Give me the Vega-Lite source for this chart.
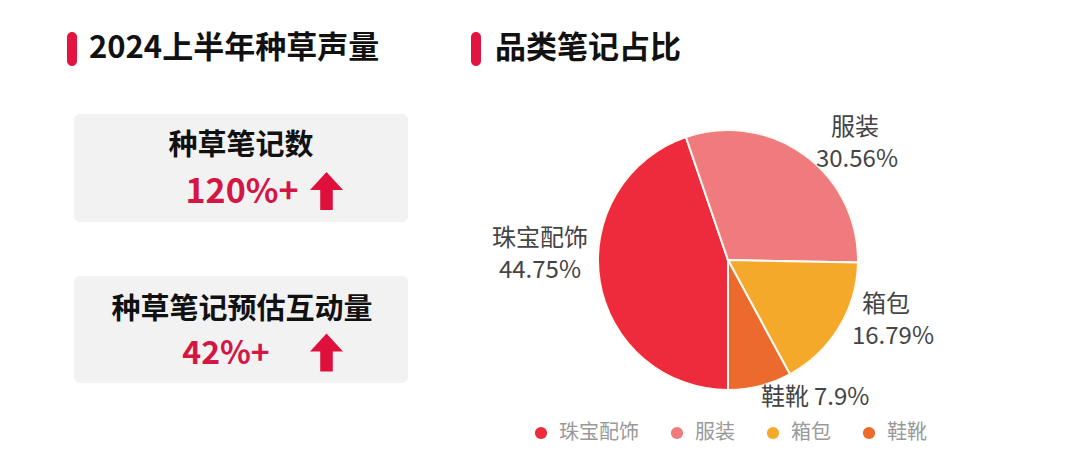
{
  "$schema": "https://vega.github.io/schema/vega-lite/v6.json",
  "width": 1080,
  "height": 470,
  "autosize": {"type": "fit", "contains": "padding"},
  "padding": 0,
  "background": "white",
  "config": {"view": {"stroke": null}, "font": "Noto Sans CJK SC"},
  "resolve": {"scale": {"x": "shared", "y": "shared"}},
  "datasets": {
    "share": [
      {"category": "珠宝配饰", "share": 0.4475},
      {"category": "服装", "share": 0.3056},
      {"category": "箱包", "share": 0.1679},
      {"category": "鞋靴", "share": 0.079}
    ],
    "kpi": [
      {"metric": "种草笔记数", "change": "120%+"},
      {"metric": "种草笔记预估互动量", "change": "42%+"}
    ],
    "titles": [
      {"title": "2024上半年种草声量"},
      {"title": "品类笔记占比"}
    ]
  },
  "layer": [
    {
      "data": {"values": [{}]},
      "mark": {"type": "rect", "fill": "#F2F2F2", "cornerRadius": 6},
      "encoding": {
        "x": {"datum": 74, "type": "quantitative", "scale": {"domain": [0, 1080], "nice": false, "zero": false}, "axis": null},
        "x2": {"datum": 408},
        "y": {"datum": 114, "type": "quantitative", "scale": {"domain": [0, 470], "nice": false, "zero": false, "reverse": true}, "axis": null},
        "y2": {"datum": 222}
      }
    },
    {
      "data": {"values": [{}]},
      "mark": {"type": "rect", "fill": "#F2F2F2", "cornerRadius": 6},
      "encoding": {
        "x": {"datum": 74, "type": "quantitative", "scale": {"domain": [0, 1080], "nice": false, "zero": false}, "axis": null},
        "x2": {"datum": 408},
        "y": {"datum": 276, "type": "quantitative", "scale": {"domain": [0, 470], "nice": false, "zero": false, "reverse": true}, "axis": null},
        "y2": {"datum": 383}
      }
    },
    {
      "data": {"values": [{}]},
      "mark": {"type": "rect", "fill": "#E3143F", "cornerRadius": 5},
      "encoding": {
        "x": {"datum": 67, "type": "quantitative", "scale": {"domain": [0, 1080], "nice": false, "zero": false}, "axis": null},
        "x2": {"datum": 77},
        "y": {"datum": 32, "type": "quantitative", "scale": {"domain": [0, 470], "nice": false, "zero": false, "reverse": true}, "axis": null},
        "y2": {"datum": 66}
      }
    },
    {
      "data": {"values": [{}]},
      "mark": {"type": "rect", "fill": "#E3143F", "cornerRadius": 5},
      "encoding": {
        "x": {"datum": 471, "type": "quantitative", "scale": {"domain": [0, 1080], "nice": false, "zero": false}, "axis": null},
        "x2": {"datum": 481},
        "y": {"datum": 32, "type": "quantitative", "scale": {"domain": [0, 470], "nice": false, "zero": false, "reverse": true}, "axis": null},
        "y2": {"datum": 66}
      }
    },
    {
      "data": {"name": "titles"},
      "transform": [{"filter": "datum.title === '2024上半年种草声量'"}],
      "mark": {"type": "text", "align": "left", "baseline": "middle", "fontSize": 31, "fontWeight": "bold", "color": "#111111"},
      "encoding": {
        "x": {"datum": 89, "type": "quantitative", "scale": {"domain": [0, 1080], "nice": false, "zero": false}, "axis": null},
        "y": {"datum": 49, "type": "quantitative", "scale": {"domain": [0, 470], "nice": false, "zero": false, "reverse": true}, "axis": null},
        "text": {"field": "title"}
      }
    },
    {
      "data": {"name": "titles"},
      "transform": [{"filter": "datum.title === '品类笔记占比'"}],
      "mark": {"type": "text", "align": "left", "baseline": "middle", "fontSize": 31, "fontWeight": "bold", "color": "#111111"},
      "encoding": {
        "x": {"datum": 495, "type": "quantitative", "scale": {"domain": [0, 1080], "nice": false, "zero": false}, "axis": null},
        "y": {"datum": 49, "type": "quantitative", "scale": {"domain": [0, 470], "nice": false, "zero": false, "reverse": true}, "axis": null},
        "text": {"field": "title"}
      }
    },
    {
      "data": {"name": "kpi"},
      "transform": [{"filter": "datum.metric === '种草笔记数'"}],
      "mark": {"type": "text", "align": "center", "baseline": "middle", "fontSize": 29, "fontWeight": "bold", "color": "#111111"},
      "encoding": {
        "x": {"datum": 241, "type": "quantitative", "scale": {"domain": [0, 1080], "nice": false, "zero": false}, "axis": null},
        "y": {"datum": 146, "type": "quantitative", "scale": {"domain": [0, 470], "nice": false, "zero": false, "reverse": true}, "axis": null},
        "text": {"field": "metric"}
      }
    },
    {
      "data": {"name": "kpi"},
      "transform": [{"filter": "datum.metric === '种草笔记数'"}],
      "mark": {"type": "text", "align": "center", "baseline": "middle", "fontSize": 34, "fontWeight": "bold", "color": "#D41645"},
      "encoding": {
        "x": {"datum": 242, "type": "quantitative", "scale": {"domain": [0, 1080], "nice": false, "zero": false}, "axis": null},
        "y": {"datum": 193, "type": "quantitative", "scale": {"domain": [0, 470], "nice": false, "zero": false, "reverse": true}, "axis": null},
        "text": {"field": "change"}
      }
    },
    {
      "data": {"name": "kpi"},
      "transform": [{"filter": "datum.metric === '种草笔记预估互动量'"}],
      "mark": {"type": "text", "align": "center", "baseline": "middle", "fontSize": 29, "fontWeight": "bold", "color": "#111111"},
      "encoding": {
        "x": {"datum": 242, "type": "quantitative", "scale": {"domain": [0, 1080], "nice": false, "zero": false}, "axis": null},
        "y": {"datum": 310, "type": "quantitative", "scale": {"domain": [0, 470], "nice": false, "zero": false, "reverse": true}, "axis": null},
        "text": {"field": "metric"}
      }
    },
    {
      "data": {"name": "kpi"},
      "transform": [{"filter": "datum.metric === '种草笔记预估互动量'"}],
      "mark": {"type": "text", "align": "center", "baseline": "middle", "fontSize": 32, "fontWeight": "bold", "color": "#D41645"},
      "encoding": {
        "x": {"datum": 226, "type": "quantitative", "scale": {"domain": [0, 1080], "nice": false, "zero": false}, "axis": null},
        "y": {"datum": 354, "type": "quantitative", "scale": {"domain": [0, 470], "nice": false, "zero": false, "reverse": true}, "axis": null},
        "text": {"field": "change"}
      }
    },
    {
      "data": {"values": [{}]},
      "mark": {"type": "point", "filled": true, "opacity": 1, "fill": "#E0103C", "strokeWidth": 0, "size": 1444, "shape": "M0,-1 L0.87,-0.05 L0.33,-0.05 L0.33,1 L-0.33,1 L-0.33,-0.05 L-0.87,-0.05 Z"},
      "encoding": {
        "x": {"datum": 326.5, "type": "quantitative", "scale": {"domain": [0, 1080], "nice": false, "zero": false}, "axis": null},
        "y": {"datum": 191, "type": "quantitative", "scale": {"domain": [0, 470], "nice": false, "zero": false, "reverse": true}, "axis": null}
      }
    },
    {
      "data": {"values": [{}]},
      "mark": {"type": "point", "filled": true, "opacity": 1, "fill": "#E0103C", "strokeWidth": 0, "size": 1444, "shape": "M0,-1 L0.87,-0.05 L0.33,-0.05 L0.33,1 L-0.33,1 L-0.33,-0.05 L-0.87,-0.05 Z"},
      "encoding": {
        "x": {"datum": 326.5, "type": "quantitative", "scale": {"domain": [0, 1080], "nice": false, "zero": false}, "axis": null},
        "y": {"datum": 352.5, "type": "quantitative", "scale": {"domain": [0, 470], "nice": false, "zero": false, "reverse": true}, "axis": null}
      }
    },
    {
      "data": {"name": "share"},
      "mark": {"type": "arc", "outerRadius": 130, "stroke": "#FFFBF2", "strokeWidth": 2},
      "encoding": {
        "x": {"datum": 728, "type": "quantitative", "scale": {"domain": [0, 1080], "nice": false, "zero": false}, "axis": null},
        "y": {"datum": 260, "type": "quantitative", "scale": {"domain": [0, 470], "nice": false, "zero": false, "reverse": true}, "axis": null},
        "theta": {"field": "share", "type": "quantitative", "stack": true, "scale": {"range": [3.14159265, 9.42477796]}},
        "order": {"field": "share", "sort": "descending"},
        "color": {
          "field": "category",
          "type": "nominal",
          "sort": ["珠宝配饰", "服装", "箱包", "鞋靴"],
          "scale": {"domain": ["珠宝配饰", "服装", "箱包", "鞋靴"], "range": ["#EE2B3C", "#F07B7E", "#F5A92B", "#EC6A2E"]},
          "legend": {
            "orient": "none",
            "legendX": 531,
            "legendY": 423,
            "direction": "horizontal",
            "title": null,
            "symbolType": "circle",
            "symbolSize": 150,
            "symbolStrokeWidth": 0,
            "symbolOpacity": 1,
            "labelFontSize": 20,
            "labelColor": "#999999",
            "labelOffset": 8,
            "columnPadding": 28
          }
        }
      }
    },
    {
      "data": {"name": "share"},
      "transform": [{"filter": "datum.category === '珠宝配饰'"}],
      "mark": {"type": "text", "align": "center", "baseline": "middle", "fontSize": 24, "color": "#444444"},
      "encoding": {
        "x": {"datum": 540, "type": "quantitative", "scale": {"domain": [0, 1080], "nice": false, "zero": false}, "axis": null},
        "y": {"datum": 239, "type": "quantitative", "scale": {"domain": [0, 470], "nice": false, "zero": false, "reverse": true}, "axis": null},
        "text": {"field": "category"}
      }
    },
    {
      "data": {"name": "share"},
      "transform": [{"filter": "datum.category === '珠宝配饰'"}],
      "mark": {"type": "text", "align": "center", "baseline": "middle", "fontSize": 24, "color": "#444444"},
      "encoding": {
        "x": {"datum": 540, "type": "quantitative", "scale": {"domain": [0, 1080], "nice": false, "zero": false}, "axis": null},
        "y": {"datum": 271, "type": "quantitative", "scale": {"domain": [0, 470], "nice": false, "zero": false, "reverse": true}, "axis": null},
        "text": {"field": "share", "format": ".2%"}
      }
    },
    {
      "data": {"name": "share"},
      "transform": [{"filter": "datum.category === '服装'"}],
      "mark": {"type": "text", "align": "center", "baseline": "middle", "fontSize": 24, "color": "#444444"},
      "encoding": {
        "x": {"datum": 855, "type": "quantitative", "scale": {"domain": [0, 1080], "nice": false, "zero": false}, "axis": null},
        "y": {"datum": 128, "type": "quantitative", "scale": {"domain": [0, 470], "nice": false, "zero": false, "reverse": true}, "axis": null},
        "text": {"field": "category"}
      }
    },
    {
      "data": {"name": "share"},
      "transform": [{"filter": "datum.category === '服装'"}],
      "mark": {"type": "text", "align": "center", "baseline": "middle", "fontSize": 24, "color": "#444444"},
      "encoding": {
        "x": {"datum": 857, "type": "quantitative", "scale": {"domain": [0, 1080], "nice": false, "zero": false}, "axis": null},
        "y": {"datum": 160, "type": "quantitative", "scale": {"domain": [0, 470], "nice": false, "zero": false, "reverse": true}, "axis": null},
        "text": {"field": "share", "format": ".2%"}
      }
    },
    {
      "data": {"name": "share"},
      "transform": [{"filter": "datum.category === '箱包'"}],
      "mark": {"type": "text", "align": "center", "baseline": "middle", "fontSize": 24, "color": "#444444"},
      "encoding": {
        "x": {"datum": 886, "type": "quantitative", "scale": {"domain": [0, 1080], "nice": false, "zero": false}, "axis": null},
        "y": {"datum": 305, "type": "quantitative", "scale": {"domain": [0, 470], "nice": false, "zero": false, "reverse": true}, "axis": null},
        "text": {"field": "category"}
      }
    },
    {
      "data": {"name": "share"},
      "transform": [{"filter": "datum.category === '箱包'"}],
      "mark": {"type": "text", "align": "center", "baseline": "middle", "fontSize": 24, "color": "#444444"},
      "encoding": {
        "x": {"datum": 893, "type": "quantitative", "scale": {"domain": [0, 1080], "nice": false, "zero": false}, "axis": null},
        "y": {"datum": 337, "type": "quantitative", "scale": {"domain": [0, 470], "nice": false, "zero": false, "reverse": true}, "axis": null},
        "text": {"field": "share", "format": ".2%"}
      }
    },
    {
      "data": {"name": "share"},
      "transform": [{"filter": "datum.category === '鞋靴'"}],
      "mark": {"type": "text", "align": "left", "baseline": "middle", "fontSize": 24, "color": "#444444"},
      "encoding": {
        "x": {"datum": 761, "type": "quantitative", "scale": {"domain": [0, 1080], "nice": false, "zero": false}, "axis": null},
        "y": {"datum": 398, "type": "quantitative", "scale": {"domain": [0, 470], "nice": false, "zero": false, "reverse": true}, "axis": null},
        "text": {"field": "category"}
      }
    },
    {
      "data": {"name": "share"},
      "transform": [{"filter": "datum.category === '鞋靴'"}],
      "mark": {"type": "text", "align": "left", "baseline": "middle", "fontSize": 24, "color": "#444444"},
      "encoding": {
        "x": {"datum": 814, "type": "quantitative", "scale": {"domain": [0, 1080], "nice": false, "zero": false}, "axis": null},
        "y": {"datum": 398, "type": "quantitative", "scale": {"domain": [0, 470], "nice": false, "zero": false, "reverse": true}, "axis": null},
        "text": {"field": "share", "format": ".1%"}
      }
    }
  ]
}
